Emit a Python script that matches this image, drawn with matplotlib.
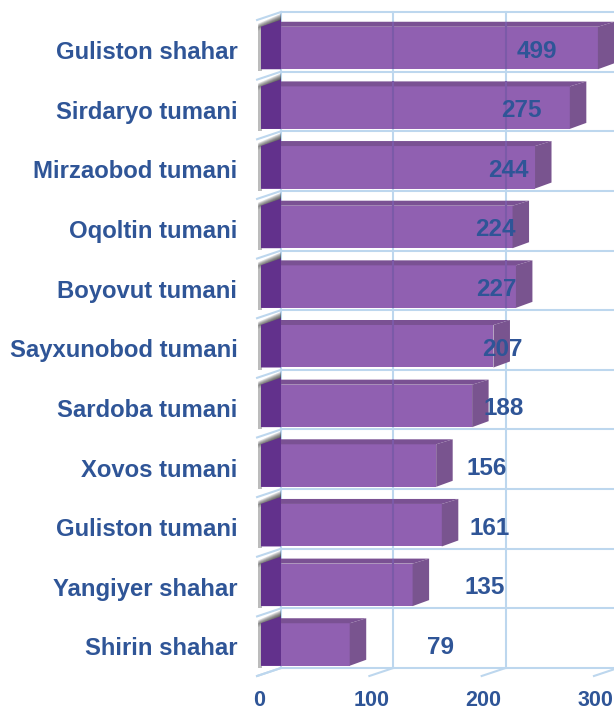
import matplotlib
matplotlib.use("Agg")
import matplotlib.pyplot as plt
import numpy as np
from matplotlib.patches import Polygon
from matplotlib.transforms import ScaledTranslation

plt.rcParams['font.family'] = ['Liberation Sans', 'DejaVu Sans']

districts = ["Guliston shahar", "Sirdaryo tumani", "Mirzaobod tumani", "Oqoltin tumani",
             "Boyovut tumani", "Sayxunobod tumani", "Sardoba tumani", "Xovos tumani",
             "Guliston tumani", "Yangiyer shahar", "Shirin shahar"]
values = [499, 275, 244, 224, 227, 207, 188, 156, 161, 135, 79]
x_ticks = [0, 100, 200, 300]
axis_max = 300

# where the labels sit on the x axis, they were moved by hand in the original
label_x = [246, 232, 220, 209, 210, 215, 216, 201, 204, 199, 160]

W, H = 614, 709
px_x = 1.123          # pixels per unit
row = 59.65           # pixels per row
first = 48            # pixel centre of first bar
floor = 676

fig = plt.figure(figsize=(W / 100, H / 100), dpi=100)
ax = fig.add_axes([261 / W, (H - floor) / H, (W - 261) / W, floor / H])
ax.set_xlim(0, (W - 261) / px_x)
ax.set_ylim((floor - first) / row, -first / row)
for s in ax.spines.values():
    s.set_visible(False)

# depth offsets in data units
dx_wall = 20 / px_x
dx_bar = 16.5 / px_x
dy_bar = 5 / row
half = 21.25 / row

grid_c = "#bdd7ee"
top_wall = (12 - first) / row
bot_wall = (668 - first) / row

# back wall and floor lines
for t in x_ticks:
    ax.plot([t + dx_wall] * 2, [top_wall, bot_wall], color=grid_c, lw=1.5, zorder=1, clip_on=False)
    ax.plot([t - 3.5, t + dx_wall], [bot_wall + 8 / row, bot_wall], color=grid_c, lw=1.5, zorder=1.6, clip_on=False)
for i in range(len(districts) + 1):
    y = top_wall + i * (bot_wall - top_wall) / len(districts)
    ax.plot([dx_wall, 330], [y, y], color=grid_c, lw=1.5, zorder=1, clip_on=False)
    ax.plot([-3.5, dx_wall], [y + 8 / row, y], color=grid_c, lw=1.5, zorder=1.6, clip_on=False)

y_pos = np.arange(len(districts))
lengths = np.minimum(values, axis_max)

# soft shadow on the left wall above each bar
for y in y_pos:
    for k in range(1, 9):
        up = k / row
        ax.add_patch(Polygon([(-2.5, y - half + 1 / row), (-2.5, y - half + dy_bar - up),
                              (dx_wall, y - half - dy_bar - up), (dx_wall, y - half)],
                             closed=True, fc="#202020", ec="none", alpha=0.17, zorder=1.5, clip_on=False))
    ax.add_patch(Polygon([(-2.5, y - half), (0.6, y - half), (0.6, y + half + 2 / row), (-2.5, y + half + 2 / row)],
                         closed=True, fc="#909090", ec="none", alpha=0.6, zorder=1.5, clip_on=False))

ax.barh(y_pos, lengths, height=2 * half, color="#9060b1", zorder=2)

for y, v in zip(y_pos, lengths):
    # top face
    ax.add_patch(Polygon([(0, y - half), (dx_bar, y - half - dy_bar), (v + dx_bar, y - half - dy_bar), (v, y - half)],
                         closed=True, fc="#7a5193", ec="none", zorder=2.5, clip_on=False))
    # end face
    ax.add_patch(Polygon([(v, y - half), (v + dx_bar, y - half - dy_bar), (v + dx_bar, y + half - 2 * dy_bar + 4 / row), (v, y + half)],
                         closed=True, fc="#79548f", ec="none", zorder=2.5, clip_on=False))
    # dark left end
    ax.add_patch(Polygon([(0, y - half), (dx_wall, y - half - 1.4 * dy_bar), (dx_wall, y + half), (0, y + half)],
                         closed=True, fc="#62318c", ec="none", zorder=3, clip_on=False))
    # wall lines showing through the bar
    for t in x_ticks[1:]:
        if t + dx_wall < v:
            ax.plot([t + dx_wall] * 2, [y - half - dy_bar, y + half], color="#7b5aa8", lw=1.5,
                    zorder=2.8, solid_capstyle="butt", clip_on=False)

text_c = "#2f5597"
for y, v, lx in zip(y_pos, values, label_x):
    ax.text(lx, y + 3 / row, str(v), color=text_c, fontsize=17.5, fontweight="bold",
            ha="center", va="center", zorder=5)

ax.set_yticks(y_pos, districts)
ax.set_xticks(x_ticks, [str(t) for t in x_ticks])
ax.tick_params(axis="y", length=0, pad=17, labelsize=17.2, labelcolor=text_c)
ax.tick_params(axis="x", length=0, pad=10, labelsize=15.5, labelcolor=text_c)
for lab in ax.get_yticklabels() + ax.get_xticklabels():
    lab.set_fontweight("bold")
fig.canvas.draw()
shift_x = ScaledTranslation(-2 / 100, 0, fig.dpi_scale_trans)
shift_y = ScaledTranslation(0, -2 / 100, fig.dpi_scale_trans)
for lab in ax.get_xticklabels():
    lab.set_transform(lab.get_transform() + shift_x)
for lab in ax.get_yticklabels():
    lab.set_transform(lab.get_transform() + shift_y)

fig.savefig("out.png", dpi=100)
